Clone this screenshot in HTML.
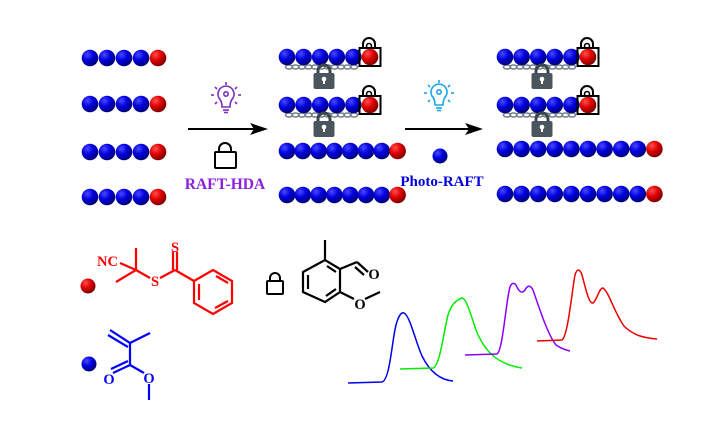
<!DOCTYPE html>
<html><head><meta charset="utf-8"><style>
html,body{margin:0;padding:0;background:#fff;width:716px;height:437px;overflow:hidden}
svg{display:block}
text{font-family:"Liberation Serif",serif;font-weight:bold}
</style></head><body>
<svg id="s" width="716" height="437" viewBox="0 0 716 437" xmlns="http://www.w3.org/2000/svg">
<defs>
<radialGradient id="gb" cx="0.35" cy="0.3" r="0.7"><stop offset="0" stop-color="#4a4aff"/><stop offset="0.5" stop-color="#0000e0"/><stop offset="1" stop-color="#00007a"/></radialGradient>
<radialGradient id="gr" cx="0.35" cy="0.3" r="0.7"><stop offset="0" stop-color="#ff5050"/><stop offset="0.5" stop-color="#e00000"/><stop offset="1" stop-color="#800000"/></radialGradient>
</defs>
<g id="balls"></g>
<line x1="188" y1="129" x2="256" y2="129" stroke="#000" stroke-width="2"/>
<polygon points="268,129 250,123 254,129 250,135" fill="#000"/>
<line x1="405" y1="129" x2="471" y2="129" stroke="#000" stroke-width="2"/>
<polygon points="483,129 465,123 469,129 465,135" fill="#000"/>
<g transform="translate(226,98)" stroke="#7b2fbf" fill="none" stroke-width="1.6">
<path d="M-4,9 Q-4,3 -7,0 A8,8 0 1 1 7,0 Q4,3 4,9 Z"/><line x1="-3" y1="12" x2="3" y2="12"/><line x1="-2" y1="14.5" x2="2" y2="14.5"/>
<circle cx="0" cy="-4" r="2.2"/>
<line x1="0" y1="-16" x2="0" y2="-13"/><line x1="-11" y1="-11" x2="-9" y2="-9"/><line x1="11" y1="-11" x2="9" y2="-9"/><line x1="-15" y1="-3" x2="-12" y2="-3"/><line x1="15" y1="-3" x2="12" y2="-3"/><line x1="-11" y1="6" x2="-9" y2="4"/><line x1="11" y1="6" x2="9" y2="4"/>
</g>
<g transform="translate(439,96)" stroke="#1aa7e8" fill="none" stroke-width="1.6">
<path d="M-4,9 Q-4,3 -7,0 A8,8 0 1 1 7,0 Q4,3 4,9 Z"/><line x1="-3" y1="12" x2="3" y2="12"/><line x1="-2" y1="14.5" x2="2" y2="14.5"/>
<circle cx="0" cy="-4" r="2.2"/>
<line x1="0" y1="-16" x2="0" y2="-13"/><line x1="-11" y1="-11" x2="-9" y2="-9"/><line x1="11" y1="-11" x2="9" y2="-9"/><line x1="-15" y1="-3" x2="-12" y2="-3"/><line x1="15" y1="-3" x2="12" y2="-3"/><line x1="-11" y1="6" x2="-9" y2="4"/><line x1="11" y1="6" x2="9" y2="4"/>
</g>
<g stroke="#000" fill="none" stroke-width="2">
<path d="M219,152 v-3 a6,6 0 0 1 12,0 v3"/><rect x="215" y="152" width="21" height="16" rx="1"/>
<path d="M270,281 v-3 a5,5 0 0 1 10,0 v3"/><rect x="267" y="281" width="16" height="13" rx="1"/>
</g>
<text x="225" y="189" font-size="15.5" fill="#8a1fe0" text-anchor="middle">RAFT-HDA</text>
<circle cx="440" cy="156" r="7.5" fill="url(#gb)"/>
<text x="442" y="186" font-size="15" fill="#0000e0" text-anchor="middle">Photo-RAFT</text>
<circle cx="88" cy="286" r="7.5" fill="url(#gr)"/>
<g stroke="#f00" stroke-width="2.2" fill="none">
<line x1="120" y1="263" x2="136" y2="270"/>
<line x1="136" y1="248" x2="136" y2="270"/>
<line x1="116" y1="282" x2="136" y2="270"/>
<line x1="136" y1="270" x2="150" y2="278"/>
<line x1="160" y1="278" x2="175" y2="270"/>
<line x1="173" y1="252" x2="173" y2="270"/><line x1="177" y1="252" x2="177" y2="270"/>
<line x1="175" y1="270" x2="194" y2="281"/>
<polygon points="194,281 213,270 232,281 232,303 213,314 194,303"/>
<line x1="199" y1="300" x2="199" y2="284"/><line x1="216" y1="276" x2="228" y2="283"/><line x1="228" y1="301" x2="215" y2="308"/>
</g>
<text x="97" y="266" font-size="14.5" fill="#f00">NC</text>
<text x="155" y="286" font-size="14.5" fill="#f00" text-anchor="middle">S</text>
<text x="175" y="252" font-size="14.5" fill="#f00" text-anchor="middle">S</text>
<g stroke="#000" stroke-width="2.2" fill="none">
<polygon points="303,272 325,260 340,269 340,292 325,302 303,292"/>
<line x1="325" y1="240" x2="325" y2="260"/>
<line x1="340" y1="269" x2="357" y2="262"/><line x1="357" y1="262" x2="368" y2="272"/><line x1="355" y1="267" x2="364" y2="275"/>
<line x1="340" y1="292" x2="354" y2="299"/><line x1="365" y1="299" x2="380" y2="292"/>
<line x1="308" y1="289" x2="308" y2="275"/><line x1="327" y1="266" x2="336" y2="272"/><line x1="336" y1="289" x2="326" y2="296"/>
</g>
<text x="374" y="279" font-size="14.5" fill="#000" text-anchor="middle">O</text>
<text x="360" y="309" font-size="14.5" fill="#000" text-anchor="middle">O</text>
<circle cx="89" cy="364" r="7.5" fill="url(#gb)"/>
<g stroke="#00f" stroke-width="2.2" fill="none">
<line x1="110" y1="330" x2="130" y2="343"/><line x1="108" y1="335" x2="128" y2="347"/>
<line x1="130" y1="343" x2="150" y2="333"/>
<line x1="130" y1="343" x2="130" y2="365"/>
<line x1="130" y1="365" x2="113" y2="373"/><line x1="128" y1="361" x2="111" y2="369"/>
<line x1="130" y1="365" x2="144" y2="373"/>
<line x1="149" y1="384" x2="149" y2="400"/>
</g>
<text x="109" y="384" font-size="14.5" fill="#00f" text-anchor="middle">O</text>
<text x="149" y="383" font-size="14.5" fill="#00f" text-anchor="middle">O</text>
<g fill="none" stroke-width="1.5">
<path stroke="#0000ee" d="M348,383 L382,382 C390,380 392,340 396,325 C399,314 402,312 404,313 C410,316 415,340 422,356 C430,372 440,380 453,381"/>
<path stroke="#00ee00" d="M400,369 L433,368 C440,366 444,330 448,315 C451,305 456,300 462,298 C466,298 470,312 476,330 C484,350 496,364 522,368"/>
<path stroke="#8a00ff" d="M465,355 L497,354 C503,350 506,300 510,287 C512,282 514,283 516,285 C519,292 522,294 525,290 C527,286 530,284 533,290 C540,310 548,335 556,345 C562,349 566,350 570,351"/>
<path stroke="#ee0000" d="M537,341 L562,340 C568,336 572,290 575,275 C577,268 580,269 582,275 C586,290 589,304 593,303 C597,300 599,288 603,288 C609,292 614,312 624,326 C634,336 645,338 657,339"/>
</g>
</svg>
<script>
var g=document.getElementById('balls'),h='';
function row(x0,y,nb,sp){for(var i=0;i<=nb;i++){h+='<circle cx="'+(x0+i*sp)+'" cy="'+y+'" r="8.3" fill="url(#'+(i==nb?'gr':'gb')+')"/>';}}
function chain(x0,x1,y){for(var x=x0;x<x1;x+=6.5){h+='<ellipse cx="'+x+'" cy="'+y+'" rx="3.6" ry="2" fill="none" stroke="#75818b" stroke-width="1.5"/>';}}
function glock(x,y){h+='<path d="M'+(x-6)+','+(y+8)+' v-3 a6,6 0 0 1 12,0 v3" fill="none" stroke="#3d464e" stroke-width="3"/><rect x="'+(x-10.5)+'" y="'+(y+7)+'" width="21" height="16" rx="2" fill="#4b555e"/><circle cx="'+x+'" cy="'+(y+13)+'" r="2.3" fill="#fff"/><rect x="'+(x-1)+'" y="'+(y+13)+'" width="2" height="5" fill="#fff"/>';}
function olock(x,y){h+='<path d="M'+(x-6)+','+(y-9)+' v-4 a6,6 0 0 1 12,0 v4" fill="none" stroke="#000" stroke-width="2"/><circle cx="'+x+'" cy="'+(y-11)+'" r="2.5" fill="none" stroke="#000" stroke-width="1.6"/>';}
function olockBox(x,y){h+='<rect x="'+(x-10.5)+'" y="'+(y-9)+'" width="21" height="18" fill="none" stroke="#000" stroke-width="2"/>';}
[58,104,152,197].forEach(function(y){row(90,y,4,17);});
function locked(x0,y){chain(x0+2,x0+70,y+10);olock(x0+82,y);row(x0,y,5,16.6);olockBox(x0+83,y);glock(x0+37,y+9);}
locked(287,57);locked(287,105);
row(287,151,7,15.8);row(287,195,7,15.8);
locked(505,57);locked(505,105);
row(505,149,9,16.6);row(505,194,9,16.6);
g.innerHTML=h;
</script>
</body></html>
